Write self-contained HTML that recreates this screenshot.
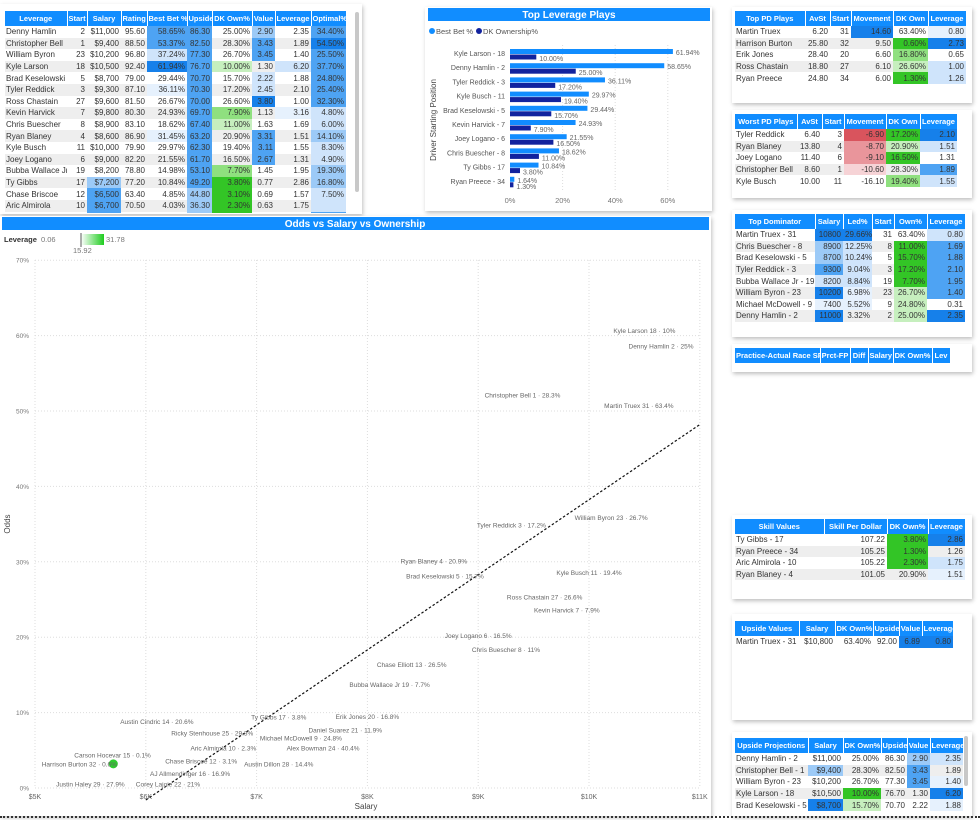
<!DOCTYPE html>
<html><head><meta charset="utf-8">
<style>
body{margin:0;width:980px;height:820px;background:#fff;font-family:"Liberation Sans",sans-serif;position:relative;overflow:hidden}
.panel{position:absolute;background:#fff;box-shadow:1px 2px 4px rgba(0,0,0,.25)}
table{border-collapse:collapse;table-layout:fixed;position:absolute;font-size:8px;color:#333}
th,td{box-sizing:border-box}
th{background:#118DFF;color:#fff;font-weight:bold;font-size:7.5px;height:15px;padding:0 1px;text-align:center;border-right:1px solid #fff;white-space:nowrap;overflow:hidden}
td{padding:0 2px;height:11.6px;white-space:nowrap;overflow:hidden;text-align:right;line-height:11px}
td.n{text-align:left;padding-left:1px}
tr.s td{background:#eeeeee}
td.b0{background:#e6f1fd!important}td.b1{background:#cfe4fb!important}td.b2{background:#9ccaf7!important}
td.b3{background:#4ea3f3!important}td.b4{background:#1680ea!important}
td.g1{background:#c6efbe!important}td.g2{background:#8fe07f!important}td.g3{background:#33c526!important}
td.r1{background:#f6d3d6!important}td.r2{background:#e9959b!important}td.r3{background:#d9545d!important}
</style></head><body>

<div class="panel" style="left:0;top:4px;width:362px;height:210px;overflow:hidden">
 <div style="position:absolute;left:355px;top:8px;width:4px;height:180px;background:#c8c8c8;border-radius:2px"></div>
</div>
<div class="panel" style="left:425px;top:7px;width:287px;height:204px"></div>
<div class="panel" style="left:732px;top:7px;width:240px;height:96px"></div>
<div class="panel" style="left:732px;top:110px;width:240px;height:88px"></div>
<div class="panel" style="left:732px;top:210px;width:240px;height:127px"></div>
<div class="panel" style="left:732px;top:344px;width:240px;height:28px"></div>
<div class="panel" style="left:732px;top:515px;width:240px;height:84px"></div>
<div class="panel" style="left:732px;top:614px;width:240px;height:106px"></div>
<div class="panel" style="left:732px;top:732px;width:240px;height:84px;overflow:hidden">
 <div style="position:absolute;left:232px;top:4px;width:4px;height:50px;background:#c8c8c8;border-radius:2px"></div>
</div>
<div class="panel" style="left:0;top:216px;width:711px;height:600px"></div>

<div id="leftclip" style="position:absolute;left:0;top:0;width:352px;height:213px;overflow:hidden"></div>
<div id="projclip" style="position:absolute;left:0;top:0;width:980px;height:812px;overflow:hidden"></div>
<div id="tables"></div>

<svg id="bar" width="980" height="820" style="position:absolute;left:0;top:0;font-family:'Liberation Sans',sans-serif"></svg>
<svg id="sc" width="980" height="820" style="position:absolute;left:0;top:0;font-family:'Liberation Sans',sans-serif"></svg>
<div style="position:absolute;left:0;top:816px;width:980px;border-top:2px dotted #333"></div>

<script>
function buildTable(parentId,name,left,top,widths,headers,rows){
  const t=document.createElement('table');
  
  
  t.style.left=left+'px';t.style.top=top+'px';
  t.style.width=widths.reduce((a,b)=>a+b,0)+'px';
  const hr=document.createElement('tr');
  headers.forEach((h,i)=>{
    const th=document.createElement('th');
    
    
    th.style.width=widths[i]+'px';th.textContent=h;
    hr.appendChild(th);
  });
  t.appendChild(hr);
  rows.forEach((r,ri)=>{
    const tr=document.createElement('tr');
    
    
    if(ri%2===1)tr.className='s';
    r.forEach((c,ci)=>{
      const td=document.createElement('td');
      
      
      const p=c.split('|');td.textContent=p[0];
      let cls=ci===0?'n':'';if(p[1])cls+=' '+p[1];td.className=cls;
      tr.appendChild(td);
    });
    t.appendChild(tr);
  });
  document.getElementById(parentId).appendChild(t);
}
buildTable('leftclip','leverage-table',5,11,[62,20,34,26,40,25,40,23,36,35],
['Leverage','Start','Salary','Rating','Best Bet %','Upside','DK Own%','Value','Leverage','Optimal%'],[
['Denny Hamlin','2','$11,000','95.60','58.65%|b3','86.30|b3','25.00%','2.90|b2','2.35','34.40%|b3'],
['Christopher Bell','1','$9,400','88.50','53.37%|b3','82.50|b3','28.30%','3.43|b3','1.89','54.50%|b4'],
['William Byron','23','$10,200','96.80','37.24%|b1','77.30|b3','26.70%','3.45|b3','1.40','25.50%|b3'],
['Kyle Larson','18','$10,500','92.40','61.94%|b4','76.70|b3','10.00%|g1','1.30','6.20|b1','37.70%|b3'],
['Brad Keselowski','5','$8,700','79.00','29.44%','70.70|b3','15.70%','2.22|b1','1.88','24.80%|b3'],
['Tyler Reddick','3','$9,300','87.10','36.11%|b0','70.30|b3','17.20%','2.45|b1','2.10','25.40%|b3'],
['Ross Chastain','27','$9,600','81.50','26.67%','70.00|b3','26.60%','3.80|b4','1.00','32.30%|b3'],
['Kevin Harvick','7','$9,800','80.30','24.93%','69.70|b3','7.90%|g2','1.13','3.16|b0','4.80%|b1'],
['Chris Buescher','8','$8,900','83.10','18.62%','67.40|b3','11.00%|g1','1.63','1.69','6.00%|b1'],
['Ryan Blaney','4','$8,600','86.90','31.45%|b0','63.20|b3','20.90%','3.31|b3','1.51','14.10%|b2'],
['Kyle Busch','11','$10,000','79.90','29.97%','62.30|b3','19.40%','3.11|b3','1.55','8.30%|b1'],
['Joey Logano','6','$9,000','82.20','21.55%','61.70|b3','16.50%','2.67|b3','1.31','4.90%|b1'],
['Bubba Wallace Jr','19','$8,200','78.80','14.98%','53.10|b3','7.70%|g2','1.45','1.95','19.30%|b2'],
['Ty Gibbs','17','$7,200|b2','77.20','10.84%','49.20|b3','3.80%|g3','0.77','2.86','16.80%|b2'],
['Chase Briscoe','12','$6,500|b3','63.40','4.85%','44.80|b2','3.10%|g3','0.69','1.57','7.50%|b1'],
['Aric Almirola','10','$6,700|b3','70.50','4.03%','36.30|b2','2.30%|g3','0.63','1.75','|b1'],
['Ryan Preece','34','$6,600|b3','66.10','1.64%','33.30|b2','1.30%|g3','0.55','1.26','24.10%|b3']
]);
buildTable('tables','top-pd-table',735,11,[70,25,21,42,35,38],['Top PD Plays','AvSt','Start','Movement','DK Own','Leverage'],[
['Martin Truex','6.20','31','14.60|b4','63.40%','0.80|b0'],
['Harrison Burton','25.80','32','9.50','0.60%|g3','2.73|b4'],
['Erik Jones','28.40','20','6.60','16.80%|g2','0.65'],
['Ross Chastain','18.80','27','6.10','26.60%|g1','1.00|b1'],
['Ryan Preece','24.80','34','6.00','1.30%|g3','1.26|b1']]);
buildTable('tables','worst-pd-table',735,114,[62,25,22,42,34,37],['Worst PD Plays','AvSt','Start','Movement','DK Own','Leverage'],[
['Tyler Reddick','6.40','3','-6.90|r3','17.20%|g3','2.10|b4'],
['Ryan Blaney','13.80','4','-8.70|r2','20.90%|g1','1.51|b1'],
['Joey Logano','11.40','6','-9.10|r2','16.50%|g3','1.31'],
['Christopher Bell','8.60','1','-10.60|r1','28.30%','1.89|b3'],
['Kyle Busch','10.00','11','-16.10','19.40%|g2','1.55|b1']]);
buildTable('tables','top-dominator-table',735,214,[80,28,29,22,33,38],['Top Dominator','Salary','Led%','Start','Own%','Leverage'],[
['Martin Truex - 31','10800|b4','29.66%|b4','31','63.40%','0.80|b1'],
['Chris Buescher - 8','8900|b2','12.25%|b1','8','11.00%|g3','1.69|b3'],
['Brad Keselowski - 5','8700|b2','10.24%|b1','5','15.70%|g3','1.88|b3'],
['Tyler Reddick - 3','9300|b3','9.04%|b1','3','17.20%|g3','2.10|b3'],
['Bubba Wallace Jr - 19','8200|b1','8.84%|b1','19','7.70%|g3','1.95|b3'],
['William Byron - 23','10200|b4','6.98%|b0','23','26.70%|g1','1.40|b3'],
['Michael McDowell - 9','7400|b0','5.52%|b0','9','24.80%|g1','0.31'],
['Denny Hamlin - 2','11000|b4','3.32%','2','25.00%|g1','2.35|b4']]);
buildTable('tables','practice-table',735,348,[85,30,18,25,39,18],['Practice-Actual Race SP','Prct-FP','Diff','Salary','DK Own%','Lev'],[]);
buildTable('tables','skill-values-table',735,519,[89,63,41,37],['Skill Values','Skill Per Dollar','DK Own%','Leverage'],[
['Ty Gibbs - 17','107.22','3.80%|g3','2.86|b4'],
['Ryan Preece - 34','105.25','1.30%|g3','1.26'],
['Aric Almirola - 10','105.22','2.30%|g3','1.75|b1'],
['Ryan Blaney - 4','101.05','20.90%','1.51|b0']]);
buildTable('tables','upside-values-table',735,621,[64,36,38,26,23,31],['Upside Values','Salary','DK Own%','Upside','Value','Leverage'],[
['Martin Truex - 31','$10,800','63.40%','92.00','6.89|b4','0.80|b4']]);
buildTable('projclip','upside-projections-table',735,738,[73,35,38,26,23,33],['Upside Projections','Salary','DK Own%','Upside','Value','Leverage'],[
['Denny Hamlin - 2','$11,000','25.00%','86.30','2.90|b2','2.35|b1'],
['Christopher Bell - 1','$9,400|b2','28.30%','82.50','3.43|b3','1.89'],
['William Byron - 23','$10,200','26.70%','77.30','3.45|b3','1.40|b0'],
['Kyle Larson - 18','$10,500','10.00%|g3','76.70','1.30','6.20|b4'],
['Brad Keselowski - 5','$8,700|b4','15.70%|g1','70.70','2.22','1.88|b0']]);
</script>

<script>
const barCats=['Kyle Larson - 18','Denny Hamlin - 2','Tyler Reddick - 3','Kyle Busch - 11','Brad Keselowski - 5','Kevin Harvick - 7','Joey Logano - 6','Chris Buescher - 8','Ty Gibbs - 17','Ryan Preece - 34'];
const bestBet=[61.94,58.65,36.11,29.97,29.44,24.93,21.55,18.62,10.84,1.64];
const dkOwn=[10.00,25.00,17.20,19.40,15.70,7.90,16.50,11.00,3.80,1.30];
const barTicks=[0,20,40,60];
(function(){
const svg=document.getElementById('bar');const NS='http://www.w3.org/2000/svg';
const bx=v=>510+v*2.63, by=i=>48+i*14.2;
function el(tag,attrs,txt){const e=document.createElementNS(NS,tag);for(const k in attrs)e.setAttribute(k,attrs[k]);if(txt!==undefined)e.textContent=txt;svg.appendChild(e);return e;}
let h=el('rect',{x:428,y:8,width:282,height:13,fill:'#118DFF'});


let t=el('text',{x:569,y:18,'text-anchor':'middle','font-size':10,'font-weight':'bold',fill:'#fff'},'Top Leverage Plays');


let l1=el('circle',{cx:432,cy:31,r:3,fill:'#118DFF'});


let l2=el('text',{x:436,y:34,'font-size':7.5,fill:'#555'},'Best Bet %');


let l3=el('circle',{cx:479,cy:31,r:3,fill:'#12239E'});


let l4=el('text',{x:483,y:34,'font-size':7.5,fill:'#555'},'DK Ownership%');


let yt=el('text',{x:436,y:120,'font-size':8,fill:'#444','text-anchor':'middle',transform:'rotate(-90 436 120)'},'Driver Starting Position');


barTicks.forEach(v=>{
 if(v>0){let g=el('line',{x1:bx(v),x2:bx(v),y1:45,y2:192,stroke:'#ddd','stroke-dasharray':'1,2'});
 
 }
 let tk=el('text',{x:bx(v),y:203,'font-size':7.5,fill:'#777','text-anchor':'middle'},v+'%');
 
 
});
barCats.forEach((c,i)=>{
 const y=by(i);
 let lb=el('text',{x:505,y:y+8,'font-size':7,fill:'#555','text-anchor':'end'},c);
 
 
 let r1=el('rect',{x:bx(0),y:y+1,width:bx(bestBet[i])-bx(0),height:5,fill:'#118DFF'});
 
 
 let r2=el('rect',{x:bx(0),y:y+6.5,width:bx(dkOwn[i])-bx(0),height:5,fill:'#12239E'});
 
 
 let v1=el('text',{x:bx(bestBet[i])+3,y:y+7,'font-size':7,fill:'#666'},bestBet[i].toFixed(2)+'%');
 
 
 let v2=el('text',{x:bx(dkOwn[i])+3,y:y+13,'font-size':7,fill:'#666'},dkOwn[i].toFixed(2)+'%');
 
 
});
})();
</script>

<script>
const drivers=['Kyle Larson 18','Denny Hamlin 2','Christopher Bell 1','Martin Truex 31','Tyler Reddick 3','William Byron 23','Ryan Blaney 4','Brad Keselowski 5','Kyle Busch 11','Ross Chastain 27','Kevin Harvick 7','Joey Logano 6','Chris Buescher 8','Chase Elliott 13','Bubba Wallace Jr 19','Ty Gibbs 17','Erik Jones 20','Austin Cindric 14','Daniel Suarez 21','Ricky Stenhouse 25','Michael McDowell 9','Aric Almirola 10','Alex Bowman 24','Carson Hocevar 15','Chase Briscoe 12','Austin Dillon 28','Harrison Burton 32','AJ Allmendinger 16','Justin Haley 29','Corey Lajoie 22'];
const salary=[10500,10650,9400,10450,9300,10200,8600,8700,10000,9600,9800,9000,9250,8400,8200,7200,8000,6100,7800,6600,7400,6700,7600,5700,6500,7200,5400,6400,5500,6200];
const odds=[60.7,58.6,52.1,50.7,34.9,35.9,30.1,28.1,28.6,25.3,23.6,20.2,18.4,16.4,13.7,9.4,9.5,8.8,7.7,7.3,6.6,5.3,5.3,4.4,3.6,3.2,3.2,1.9,0.5,0.5];
const ownership=['10%','25%','28.3%','63.4%','17.2%','26.7%','20.9%','15.7%','19.4%','26.6%','7.9%','16.5%','11%','26.5%','7.7%','3.8%','16.8%','20.6%','11.9%','29.3%','24.8%','2.3%','40.4%','0.1%','3.1%','14.4%','0.6%','16.9%','27.9%','21%'];
const xTicks=[5000,6000,7000,8000,9000,10000,11000];
const xTickLabels=['$5K','$6K','$7K','$8K','$9K','$10K','$11K'];
const yTicks=[0,10,20,30,40,50,60,70];
const trendSalary=[6000,11000];
const trendOdds=[-1.6,48.2];
(function(){
const svg=document.getElementById('sc');const NS='http://www.w3.org/2000/svg';
const sx=v=>35+(v-5000)*0.1108, sy=v=>788-v*7.54;
function el(tag,attrs,txt){const e=document.createElementNS(NS,tag);for(const k in attrs)e.setAttribute(k,attrs[k]);if(txt!==undefined)e.textContent=txt;svg.appendChild(e);return e;}
let h=el('rect',{x:2,y:217,width:707,height:13,fill:'#118DFF'});


let t=el('text',{x:355,y:227,'text-anchor':'middle','font-size':10,'font-weight':'bold',fill:'#fff'},'Odds vs Salary vs Ownership');


const defs=el('defs',{});
const lg=document.createElementNS(NS,'linearGradient');lg.setAttribute('id','lg');
lg.innerHTML='<stop offset="0" stop-color="#fff"/><stop offset="1" stop-color="#1fcc1f"/>';defs.appendChild(lg);
let lt=el('text',{x:4,y:242,'font-size':7.5,'font-weight':'bold',fill:'#333'},'Leverage');


let lmin=el('text',{x:41,y:242,'font-size':7.5,fill:'#777'},'0.06');


let lbar=el('rect',{x:81,y:234,width:23,height:11,fill:'url(#lg)'});


let lmk=el('line',{x1:81,x2:81,y1:233,y2:247,stroke:'#333','stroke-width':0.8});


let lmax=el('text',{x:106,y:242,'font-size':7.5,fill:'#777'},'31.78');


let lmid=el('text',{x:73,y:253,'font-size':7.5,fill:'#777'},'15.92');


yTicks.forEach(v=>{
 let g=el('line',{x1:35,x2:700,y1:sy(v),y2:sy(v),stroke:'#ddd','stroke-dasharray':'1,2'});
 
 
 let tk=el('text',{x:29,y:sy(v)+2.5,'font-size':6.5,fill:'#777','text-anchor':'end'},v+'%');
 
 
});
xTicks.forEach((v,i)=>{
 let g=el('line',{x1:sx(v),x2:sx(v),y1:260,y2:788,stroke:'#ddd','stroke-dasharray':'1,2'});
 
 
 let tk=el('text',{x:sx(v),y:799,'font-size':7,fill:'#666','text-anchor':'middle'},xTickLabels[i]);
 
 
});
let xt=el('text',{x:366,y:809,'font-size':8,fill:'#444','text-anchor':'middle'},'Salary');


let yt2=el('text',{x:10,y:524,'font-size':8,fill:'#444','text-anchor':'middle',transform:'rotate(-90 10 524)'},'Odds');


let tl=el('line',{x1:sx(trendSalary[0]),y1:sy(trendOdds[0]),x2:sx(trendSalary[1]),y2:sy(trendOdds[1]),stroke:'#111','stroke-width':1.2,'stroke-dasharray':'2.5,2'});


drivers.forEach((d,i)=>{
 const x=sx(salary[i]),y=sy(odds[i]);
 if(d.indexOf('Harrison')===0){
  let dot=el('circle',{cx:x+34,cy:y,r:4.5,fill:'#2ecc2e'});
  
  
 }
 let tx=el('text',{x:Math.min(x,700-d.length*2),y:y+2.5,'font-size':6.5,fill:'#666','text-anchor':'middle'},d+' · '+ownership[i]);
 
 
});
})();
</script>
</body></html>
